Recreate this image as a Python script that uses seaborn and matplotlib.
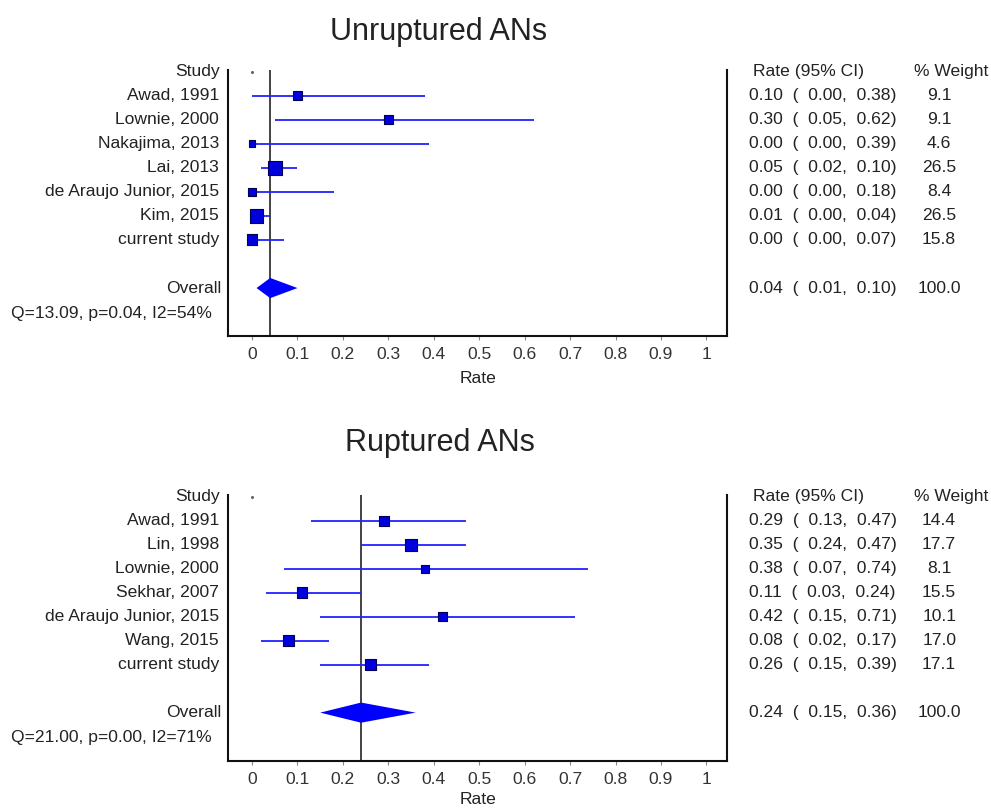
import numpy as np
import pandas as pd
import matplotlib
matplotlib.use("Agg")
import matplotlib.pyplot as plt
import matplotlib.transforms as mtransforms
import seaborn as sns

# ---------------- data ----------------
unr_titles = "Unruptured ANs"
unr_studies = ["Awad, 1991", "Lownie, 2000", "Nakajima, 2013", "Lai, 2013",
               "de Araujo Junior, 2015", "Kim, 2015", "current study"]
unr_rate = [0.10, 0.30, 0.00, 0.05, 0.00, 0.01, 0.00]
unr_lo = [0.00, 0.05, 0.00, 0.02, 0.00, 0.00, 0.00]
unr_hi = [0.38, 0.62, 0.39, 0.10, 0.18, 0.04, 0.07]
unr_weight = [9.1, 9.1, 4.6, 26.5, 8.4, 26.5, 15.8]
unr_overall = [0.04, 0.01, 0.10]
unr_het = "Q=13.09, p=0.04, I2=54%"

rup_titles = "Ruptured ANs"
rup_studies = ["Awad, 1991", "Lin, 1998", "Lownie, 2000", "Sekhar, 2007",
               "de Araujo Junior, 2015", "Wang, 2015", "current study"]
rup_rate = [0.29, 0.35, 0.38, 0.11, 0.42, 0.08, 0.26]
rup_lo = [0.13, 0.24, 0.07, 0.03, 0.15, 0.02, 0.15]
rup_hi = [0.47, 0.47, 0.74, 0.24, 0.71, 0.17, 0.39]
rup_weight = [14.4, 17.7, 8.1, 15.5, 10.1, 17.0, 17.1]
rup_overall = [0.24, 0.15, 0.36]
rup_het = "Q=21.00, p=0.00, I2=71%"

x_ticks = [0, 0.1, 0.2, 0.3, 0.4, 0.5, 0.6, 0.7, 0.8, 0.9, 1]
x_ticklabels = ["0", "0.1", "0.2", "0.3", "0.4", "0.5", "0.6", "0.7", "0.8", "0.9", "1"]

# ---------------- style ----------------
sns.set_theme(style="white")
plt.rcParams["font.family"] = ["Liberation Sans", "DejaVu Sans"]
TXT = "#222222"
FS = 12.6

fig = plt.figure(figsize=(9.91, 8.10), dpi=100)
ax_top = fig.add_axes([0.230, 0.585, 0.504, 0.329])
ax_bot = fig.add_axes([0.230, 0.061, 0.504, 0.328])


def fmt(v):
    return f"{v:.2f}"


def forest(ax, studies, rate, lo, hi, weight, overall, het, labelpad):
    n = len(studies)
    rows = np.arange(1, n + 1)
    df = pd.DataFrame({"study": studies, "rate": rate, "lo": lo, "hi": hi,
                       "weight": weight, "row": rows})
    # overall vertical line
    ax.axvline(overall[0], color="#111111", lw=1.1, zorder=1)
    # CI lines
    ax.hlines(df["row"], df["lo"], df["hi"], color="#2222ff", lw=1.3, zorder=2)
    # squares, side grows with sqrt(weight)
    size_map = {w: ((2.3 * np.sqrt(w) + 1.8) * 0.72) ** 2 for w in df["weight"].unique()}
    sns.scatterplot(data=df, x="rate", y="row", size="weight", sizes=size_map,
                    marker="s", color="#0000DD", edgecolor="#000055", linewidth=0.8,
                    legend=False, ax=ax, zorder=3)
    # overall diamond
    oy = n + 2
    est, olo, ohi = overall
    ax.fill([olo, est, ohi, est], [oy, oy - 0.42, oy, oy + 0.42],
            color="#0000FF", lw=0, zorder=3)
    # tiny null dot
    ax.plot([0], [0.0], marker="o", ms=1.2, color="#666666", zorder=2)

    ax.set_xlim(-0.053, 1.046)
    ax.set_ylim(11.0, -0.08)
    ax.set_yticks([])
    ax.set_xticks(x_ticks)
    ax.set_xticklabels(x_ticklabels, fontsize=FS, color="#333333")
    ax.tick_params(axis="x", which="major", bottom=True, length=3, width=0.8,
                   color="#888888", pad=5)
    ax.set_xlabel("Rate", fontsize=FS, color=TXT, labelpad=labelpad)
    ax.set_ylabel("")
    for s in ["left", "right", "bottom"]:
        ax.spines[s].set_visible(True)
        ax.spines[s].set_color("#111111")
        ax.spines[s].set_linewidth(1.5)
    ax.spines["top"].set_visible(False)

    tr = mtransforms.blended_transform_factory(ax.transAxes, ax.transData)
    ax.text(-0.016, 0, "Study", transform=tr, ha="right", va="center", fontsize=FS, color=TXT)
    ax.text(1.052, 0, "Rate (95% CI)", transform=tr, ha="left", va="center", fontsize=FS, color=TXT)
    ax.text(1.373, 0, "% Weight", transform=tr, ha="left", va="center", fontsize=FS, color=TXT)
    for i in range(n):
        r = rows[i]
        ax.text(-0.018, r, studies[i], transform=tr, ha="right", va="center", fontsize=FS, color=TXT)
        ax.text(1.044, r, f"{fmt(rate[i])}  (  {fmt(lo[i])},  {fmt(hi[i])})",
                transform=tr, ha="left", va="center", fontsize=FS, color=TXT)
        ax.text(1.424, r, f"{weight[i]:.1f}", transform=tr, ha="center", va="center",
                fontsize=FS, color=TXT)
    ax.text(-0.014, oy, "Overall", transform=tr, ha="right", va="center", fontsize=FS, color=TXT)
    ax.text(1.044, oy, f"{fmt(est)}  (  {fmt(olo)},  {fmt(ohi)})",
            transform=tr, ha="left", va="center", fontsize=FS, color=TXT)
    ax.text(1.424, oy, "100.0", transform=tr, ha="center", va="center", fontsize=FS, color=TXT)
    ax.text(-0.435, oy + 1.05, het, transform=tr, ha="left", va="center", fontsize=FS, color=TXT)


forest(ax_top, unr_studies, unr_rate, unr_lo, unr_hi, unr_weight, unr_overall, unr_het, 6)
forest(ax_bot, rup_studies, rup_rate, rup_lo, rup_hi, rup_weight, rup_overall, rup_het, 4)

fig.text(0.443, 0.961, unr_titles, ha="center", va="center", fontsize=22, color=TXT)
fig.text(0.444, 0.453, rup_titles, ha="center", va="center", fontsize=22, color=TXT)

fig.savefig("out.png", dpi=100, facecolor="white")
